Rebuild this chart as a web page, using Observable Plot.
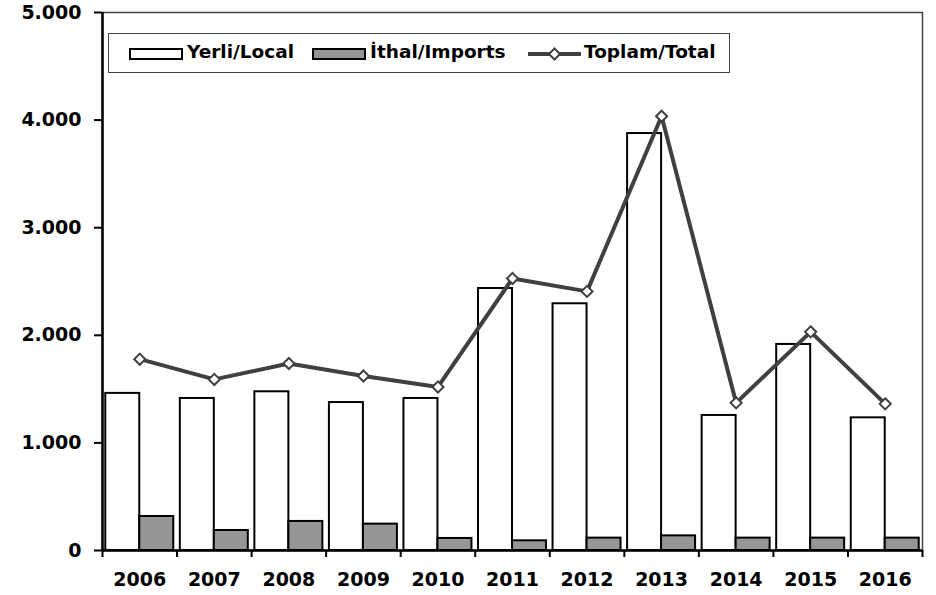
<!DOCTYPE html>
<html><head><meta charset="utf-8">
<script src="https://cdn.jsdelivr.net/npm/d3@7"></script>
<script src="https://cdn.jsdelivr.net/npm/@observablehq/plot@0.6"></script>
<style>
body{margin:0;background:#fff;}
#wrap{position:relative;width:936px;height:595px;font-family:"DejaVu Sans",Verdana,sans-serif;font-weight:bold;}
#legend{position:absolute;left:108px;top:33px;width:622px;height:40px;box-sizing:border-box;border:1.5px solid #444;background:#fff;font-size:18.5px;color:#000;}
#legend .sw{position:absolute;top:0;}
#legend .tx{position:absolute;top:7px;white-space:nowrap;}
</style></head><body>
<div id="wrap"><div id="chart"></div>
<div id="legend">
  <svg class="sw" style="left:20px" width="56" height="38"><rect x="1" y="15" width="52" height="10" fill="white" stroke="black" stroke-width="2"/></svg>
  <span class="tx" style="left:78px">Yerli/Local</span>
  <svg class="sw" style="left:203px" width="56" height="38"><rect x="1" y="15" width="52" height="10" fill="#969696" stroke="black" stroke-width="2"/></svg>
  <span class="tx" style="left:261px">İthal/Imports</span>
  <svg class="sw" style="left:418px" width="56" height="38"><line x1="1" y1="20" x2="54" y2="20" stroke="#404040" stroke-width="4"/><path d="M27.5,14.5L33,20L27.5,25.5L22,20Z" fill="white" stroke="#404040" stroke-width="2"/></svg>
  <span class="tx" style="left:475px">Toplam/Total</span>
</div></div>
<script>
const years = [2006, 2007, 2008, 2009, 2010, 2011, 2012, 2013, 2014, 2015, 2016];
const local = [1460, 1413, 1475, 1375, 1413, 2435, 2293, 3875, 1255, 1915, 1233];
const imports = [316, 186, 270, 245, 112, 90, 115, 136, 115, 115, 115];
const total = [1778, 1590, 1738, 1622, 1520, 2528, 2408, 4036, 1372, 2032, 1363];
const yTicks = [0, 1000, 2000, 3000, 4000, 5000];

const fmt = d3.formatLocale({decimal: ",", thousands: ".", grouping: [3], currency: ["", ""]}).format(",d");
const rows = years.map((y, i) => ({year: y, local: local[i], imports: imports[i], total: total[i]}));
const half = 0.456;
const bounds = d3.range(years.length + 1).map(i => years[0] - 0.5 + i);

const chart = Plot.plot({
  width: 936, height: 595,
  marginLeft: 102, marginRight: 14, marginTop: 12, marginBottom: 45,
  x: {domain: [years[0] - 0.5, years[years.length - 1] + 0.5], label: null},
  y: {domain: [0, 5000], label: null},
  style: {fontFamily: "'DejaVu Sans', Verdana, sans-serif", fontWeight: "bold", fontSize: "19px", color: "#000", background: "white"},
  marks: [
    Plot.frame({stroke: "#444", strokeWidth: 1.5}),
    Plot.rectY(rows, {x1: d => d.year - half, x2: "year", y: "local", fill: "white", stroke: "black", strokeWidth: 2}),
    Plot.rectY(rows, {x1: "year", x2: d => d.year + half, y: "imports", fill: "#969696", stroke: "black", strokeWidth: 2}),
    Plot.line(rows, {x: "year", y: "total", stroke: "#404040", strokeWidth: 4}),
    Plot.dot(rows, {x: "year", y: "total", symbol: "diamond2", r: 5, fill: "white", stroke: "#404040", strokeWidth: 2}),
    Plot.ruleY([0], {stroke: "black", strokeWidth: 2.5}),
    Plot.ruleX([bounds[0]], {stroke: "black", strokeWidth: 2.5}),
    Plot.axisY({ticks: yTicks, tickFormat: fmt, tickSize: 8, tickPadding: 13, strokeWidth: 2, label: null}),
    Plot.axisX({ticks: bounds, tickSize: 7, tickFormat: () => "", strokeWidth: 2, label: null}),
    Plot.axisX({ticks: years, tickSize: 0, tickPadding: 22, tickFormat: d => String(d), label: null})
  ]
});
document.getElementById("chart").appendChild(chart);
</script>
</body></html>
